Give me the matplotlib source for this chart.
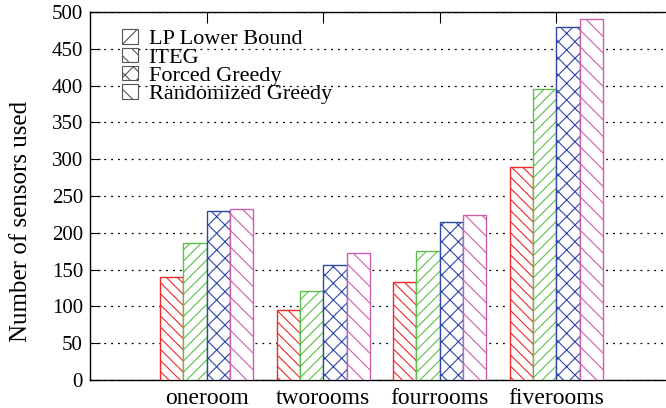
import matplotlib
matplotlib.use("Agg")
import matplotlib.pyplot as plt
import numpy as np
from matplotlib.patches import Patch

plt.rcParams['font.family'] = ['Liberation Serif', 'DejaVu Serif']
plt.rcParams['hatch.linewidth'] = 0.8

categories = ["oneroom", "tworooms", "fourrooms", "fiverooms"]
series = ["LP Lower Bound", "ITEG", "Forced Greedy", "Randomized Greedy"]
lp_lower = [140, 95, 133, 290]
iteg = [186, 121, 175, 395]
forced_greedy = [229, 156, 214, 480]
randomized_greedy = [232, 172, 224, 490]
yticks = [0, 50, 100, 150, 200, 250, 300, 350, 400, 450, 500]

values = [lp_lower, iteg, forced_greedy, randomized_greedy]
colors = ['#ee2a2a', '#5cbf4a', '#2f47a8', '#cc5fac']
hatches = ['\\\\\\', '///', 'xx', '\\\\']
legend_hatches = ['//', '\\\\', 'xx', '\\']

fig = plt.figure(figsize=(6.66, 4.08), dpi=100)
ax = fig.add_axes([90/666, 28/408, 583/666, 368/408])

x = np.arange(1, len(categories) + 1)
w = 0.2
for i, (vals, c, h) in enumerate(zip(values, colors, hatches)):
    ax.bar(x + (i - 1.5) * w, vals, w, facecolor='white', edgecolor=c,
           hatch=h, linewidth=1.0, zorder=3)

ax.set_xlim(0, 5)
ax.set_ylim(0, 500)
ax.set_yticks(yticks)
ax.set_yticklabels([str(t) for t in yticks])
ax.set_xticks(x)
ax.set_xticklabels(categories)
ax.tick_params(axis='y', direction='in', length=7, labelsize=15, pad=5,
               colors='black')
ax.tick_params(axis='x', direction='in', length=8, labelsize=17, pad=6,
               top=True, bottom=False)
ax.yaxis.grid(True, linestyle=(0, (1.5, 4)), color='black', linewidth=0.9,
              zorder=0)
ax.set_axisbelow(True)
for s in ['left', 'top', 'bottom']:
    ax.spines[s].set_linewidth(1.0)
ax.spines['right'].set_visible(False)
ax.set_ylabel("Number of sensors used", fontsize=18)
ax.yaxis.set_label_coords(-0.099, 0.43)

handles = [Patch(facecolor='white', edgecolor='#555555', hatch=h, linewidth=0.8)
           for h in legend_hatches]
leg = ax.legend(handles, series, loc='upper left', bbox_to_anchor=(0.029, 0.995),
                frameon=False, fontsize=16, handlelength=0.68, handleheight=0.6,
                handletextpad=0.5, labelspacing=-0.07, borderpad=0.2)
fig.savefig("out.png", dpi=100)
